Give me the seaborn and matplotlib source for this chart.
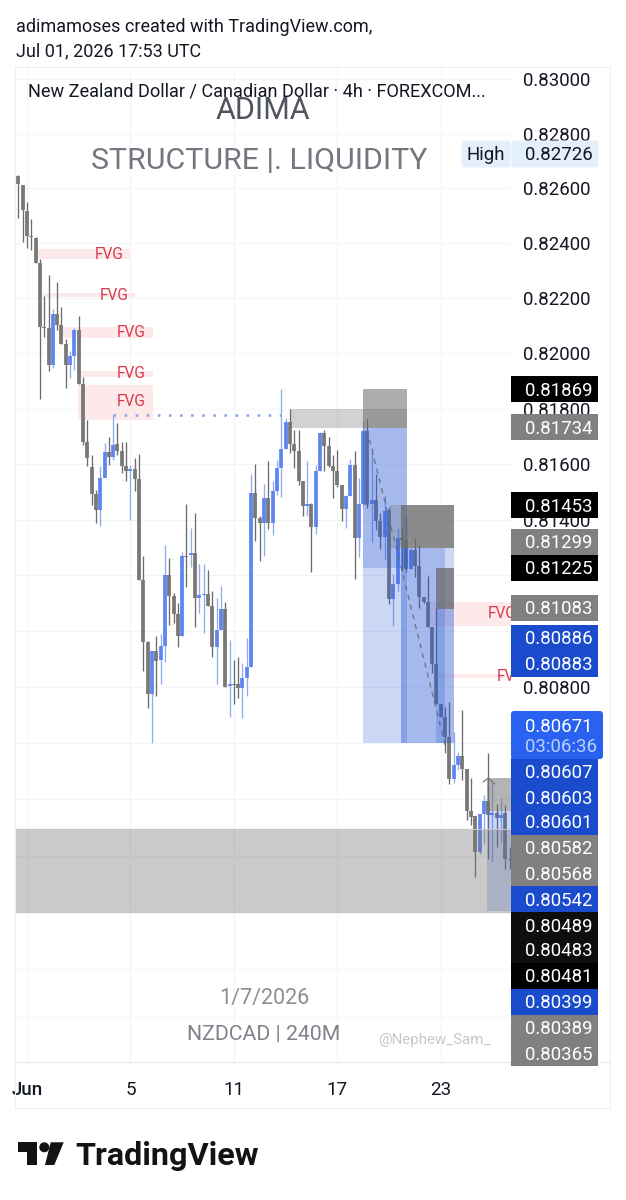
import numpy as np
import pandas as pd
import matplotlib
matplotlib.use("Agg")
import matplotlib.pyplot as plt
import seaborn as sns
from matplotlib.patches import Rectangle, Polygon, Circle, FancyBboxPatch
from matplotlib.ticker import NullFormatter, FixedFormatter
from matplotlib.transforms import Affine2D

W, H = 626, 1200

# 4h candles, prices in units of 1e-5
opens = [82646, 82613, 82519, 82426, 82420, 82328, 82095, 82092, 81959, 82142, 82102, 82033, 81959, 81989, 82083, 81888,
         81679, 81589, 81492, 81435, 81551, 81645, 81625, 81671, 81648, 81594, 81575, 81581, 81546, 81182, 80962, 80775,
         80930, 80897, 80947, 81202, 81126, 81060, 80983, 81270, 81272, 81278, 81119, 81129, 81132, 81089, 80944, 81004,
         81080, 80804, 80810, 80810, 80796, 80833, 80873, 81495, 81405, 81387, 81477, 81389, 81501, 81585, 81653, 81751,
         81672, 81648, 81537, 81450, 81455, 81373, 81575, 81713, 81665, 81593, 81576, 81525, 81437, 81483, 81597, 81333,
         81455, 81720, 81456, 81471, 81393, 81337, 81435, 81113, 81170, 81333, 81327, 81222, 81291, 81234, 81123, 81103,
         81013, 80882, 80739, 80694, 80623, 80471, 80522, 80554, 80506, 80359, 80340, 80214, 80347, 80394, 80343, 80350,
         80333, 80351, 80188]
highs = [82650, 82613, 82549, 82489, 82422, 82344, 82207, 82283, 82162, 82259, 82168, 82053, 82008, 82090, 82134, 81915,
         81759, 81633, 81507, 81594, 81675, 81697, 81777, 81748, 81681, 81681, 81597, 81622, 81636, 81268, 80965, 80930,
         80983, 80988, 81310, 81260, 81135, 81099, 81284, 81455, 81369, 81424, 81240, 81239, 81218, 81143, 81117, 81162,
         81103, 80968, 80897, 80906, 80887, 80976, 81563, 81600, 81411, 81527, 81611, 81537, 81615, 81870, 81765, 81797,
         81723, 81723, 81537, 81611, 81459, 81597, 81717, 81723, 81699, 81633, 81651, 81525, 81489, 81618, 81647, 81551,
         81756, 81761, 81657, 81564, 81423, 81489, 81445, 81204, 81369, 81369, 81409, 81298, 81333, 81309, 81123, 81196,
         81015, 81083, 80739, 80730, 80748, 80640, 80567, 80718, 80506, 80475, 80340, 80347, 80415, 80565, 80468, 80384,
         80403, 80378, 80230]
lows = [82493, 82404, 82382, 82376, 82328, 81833, 82059, 81936, 81945, 82083, 82033, 81875, 81909, 81939, 81888, 81669,
        81591, 81453, 81389, 81377, 81579, 81597, 81615, 81633, 81569, 81540, 81399, 81501, 81182, 80858, 80724, 80599,
        80768, 80811, 80890, 81022, 81030, 80944, 80983, 81158, 81230, 81015, 81065, 80992, 81089, 80908, 80811, 81004,
        80799, 80694, 80738, 80760, 80691, 80769, 80873, 81321, 81252, 81270, 81365, 81345, 81489, 81481, 81653, 81641,
        81585, 81525, 81413, 81411, 81213, 81348, 81575, 81573, 81589, 81477, 81517, 81393, 81371, 81483, 81188, 81264,
        81449, 81441, 81318, 81363, 81293, 81257, 81095, 81018, 81143, 81215, 81212, 81221, 81194, 81083, 81100, 81013,
        80849, 80739, 80692, 80563, 80456, 80457, 80504, 80468, 80325, 80307, 80123, 80207, 80242, 80188, 80176, 80229,
        80247, 80152, 80154]
closes = [82616, 82522, 82427, 82423, 82329, 82095, 82092, 81959, 82142, 82102, 82033, 81959, 81989, 82083, 81888, 81678,
          81621, 81492, 81435, 81551, 81645, 81625, 81669, 81648, 81594, 81573, 81581, 81546, 81182, 80962, 80775, 80930,
          80894, 80947, 81202, 81126, 81060, 80983, 81270, 81265, 81278, 81119, 81129, 81132, 81089, 80944, 81004, 81080,
          80801, 80810, 80806, 80796, 80833, 80873, 81495, 81405, 81387, 81477, 81389, 81501, 81585, 81653, 81751, 81672,
          81648, 81537, 81450, 81455, 81373, 81575, 81713, 81665, 81593, 81576, 81525, 81437, 81483, 81597, 81333, 81455,
          81720, 81453, 81471, 81393, 81337, 81432, 81113, 81170, 81333, 81327, 81222, 81291, 81234, 81123, 81103, 81013,
          80882, 80739, 80694, 80623, 80471, 80522, 80554, 80506, 80359, 80338, 80214, 80347, 80394, 80343, 80350, 80333,
          80345, 80188, 80185]

x_tick_pos = [2, 26, 50, 74, 98]
x_tick_labels = ["Jun", "5", "11", "17", "23"]
price_ticks = [0.830, 0.828, 0.826, 0.824, 0.822, 0.820, 0.818, 0.816, 0.814, 0.812, 0.810,
               0.808, 0.806, 0.804, 0.802, 0.800, 0.798]
# the label stack hides the other tick labels
shown_ticks = [0.830, 0.828, 0.826, 0.824, 0.822, 0.820, 0.818, 0.816, 0.814, 0.808]

# start candle, end candle, top price, bottom price
fvg_starts = [4.3, 5.7, 10.4, 14.3, 13.8, 95.0, 97.4]
fvg_ends = [26.1, 27.1, 31.2, 31.2, 31.2, 114.3, 114.3]
fvg_tops = [0.82378, 0.82218, 0.82094, 0.81935, 0.81885, 0.81104, 0.80847]
fvg_bottoms = [0.82341, 0.82203, 0.82054, 0.81914, 0.81759, 0.81018, 0.80832]
fvg_label_x = [21.0, 22.2, 26.1, 26.1, 26.1, 109.0, 111.0]
fvg_label_price = [0.82359, 0.82211, 0.82076, 0.81928, 0.81824, 0.81064, 0.80839]

gray_starts = [63.0, 80.0, 86.2, 88.8, 96.9, 108.7]
gray_ends = [90.2, 90.2, 101.1, 101.1, 101.1, 114.3]
gray_tops = [0.81798, 0.81870, 0.81453, 0.81453, 0.81226, 0.80475]
gray_bottoms = [0.81730, 0.81730, 0.81298, 0.81298, 0.81079, 0.80357]
gray_alphas = [0.3, 0.55, 0.25, 0.7, 0.75, 0.5]

blue_starts = [80.0, 80.0, 88.8, 88.8, 96.9, 108.7]
blue_ends = [90.2, 90.2, 99.0, 101.1, 101.1, 114.3]
blue_tops = [0.81730, 0.81730, 0.81298, 0.81298, 0.81079, 0.80357]
blue_bottoms = [0.80600, 0.81226, 0.80600, 0.80600, 0.80600, 0.80004]

zone_top, zone_bottom = 0.80293, 0.80000
dotted_x, dotted_price = [22, 61], [0.81777, 0.81777]
dashed_x, dashed_price = [80.9, 99.0], [0.81723, 0.80593]
chevron_x, chevron_price = [107.8, 109.0, 110.6], [0.80461, 0.80475, 0.80454]

label_values = ["0.81869", "0.81734", "0.81453", "0.81299", "0.81225", "0.81083", "0.80886", "0.80883",
                "0.80607", "0.80603", "0.80601", "0.80582", "0.80568", "0.80542", "0.80489", "0.80483",
                "0.80481", "0.80399", "0.80389", "0.80365"]
label_colors = ["black", "gray", "black", "gray", "black", "gray", "blue", "blue",
                "blue", "blue", "blue", "gray", "gray", "blue", "dark", "dark",
                "black", "blue", "gray", "gray"]
label_centers = [389, 427, 505, 542, 568, 608, 638, 664, 771, 797, 822, 848, 873, 899, 925, 950, 976, 1002, 1028, 1053]
label_palette = {"black": "#000000", "dark": "#0e0e0e", "gray": "#808080", "blue": "#1a4bcc"}

df = pd.DataFrame({"o": opens, "h": highs, "l": lows, "c": closes}).astype(float) / 1e5
df["candle"] = np.arange(len(df))
df["direction"] = np.where(df["c"] >= df["o"], "up", "down")

wicks = df.melt(id_vars=["candle", "direction"], value_vars=["l", "h"], value_name="price")
bodies = df.melt(id_vars=["candle", "direction"], value_vars=["o", "c"], value_name="price")

sns.set_theme(style="white")
plt.rcParams["font.family"] = ["Roboto", "DejaVu Sans"]

fig = plt.figure(figsize=(W / 100, H / 100), dpi=100, facecolor="white")
ax = fig.add_axes([15 / W, 1 - 1062 / H, (511 - 15) / W, (1062 - 67) / H])
px = Affine2D().scale(1 / W, -1 / H).translate(0, 1) + fig.transFigure

# FVG zones go under the candles
for s, e, t, b in zip(fvg_starts, fvg_ends, fvg_tops, fvg_bottoms):
    ax.fill_between([s, e], b, t, color="#fde9ea", lw=0, zorder=1)

sns.lineplot(data=wicks, x="candle", y="price", units="candle", hue="direction", estimator=None, sort=False,
             palette={"up": "#8fabf2", "down": "#6c6c6c"}, linewidth=0.95, legend=False, ax=ax, zorder=2,
             solid_capstyle="butt")
sns.lineplot(data=bodies, x="candle", y="price", units="candle", hue="direction", estimator=None, sort=False,
             palette={"up": "#5f86f0", "down": "#787878"}, linewidth=2.7, legend=False, ax=ax, zorder=2.1,
             solid_capstyle="butt")

# position boxes sit over the candles
for s, e, t, b in zip(blue_starts, blue_ends, blue_tops, blue_bottoms):
    ax.fill_between([s, e], b, t, color="#2a5bd7", alpha=0.24, lw=0, zorder=3)
for s, e, t, b, a in zip(gray_starts, gray_ends, gray_tops, gray_bottoms, gray_alphas):
    ax.fill_between([s, e], b, t, color="#6a6a6a", alpha=a, lw=0, zorder=3)

ax.axhspan(zone_bottom, zone_top, color="#757575", alpha=0.38, lw=0, zorder=3)
ax.axhline(zone_top, color="#c4c4c4", lw=0.8, zorder=3)
ax.axhline(zone_bottom, color="#c4c4c4", lw=0.8, zorder=3)

ax.plot(dotted_x, dotted_price, color="#8fa5ea", lw=1.9, ls=(0, (1, 3.2)), zorder=2.5)
ax.plot(dashed_x, dashed_price, color="#6b6f7a", lw=0.9, ls=(0, (4, 4)), zorder=3.5)
ax.plot(chevron_x, chevron_price, color="#7c7c7c", lw=0.9, zorder=3.5)

for lx, lp in zip(fvg_label_x, fvg_label_price):
    ha = "left" if lx > 100 else "center"
    ax.text(lx, lp, "FVG", color="#d9394c", fontsize=11.2, ha=ha, va="center", zorder=4, clip_on=True)

ax.set_yscale("log")
ax.set_ylim(0.79472, 0.83044)
ax.set_xlim(-0.78, 114.3)
ax.set_xlabel("")
ax.set_ylabel("")

ax.set_yticks(price_ticks)
ax.set_yticks([0.7963], minor=True)
ax.yaxis.set_major_formatter(FixedFormatter([f"{p:.5f}" if p in shown_ticks else "" for p in price_ticks]))
ax.yaxis.set_minor_formatter(NullFormatter())
ax.yaxis.tick_right()
ax.tick_params(axis="y", which="both", length=0, pad=9, labelsize=13.4, labelcolor="#131722")
ax.set_xticks(x_tick_pos)
ax.set_xticklabels(x_tick_labels)
ax.tick_params(axis="x", length=0, pad=14, labelsize=13.5, labelcolor="#131722")
ax.get_xticklabels()[0].set_fontweight(500)
ax.grid(True, which="both", color="#f2f4f8", lw=0.8, zorder=0)
ax.set_axisbelow(True)
for name, spine in ax.spines.items():
    spine.set_visible(name == "bottom")
    spine.set_color("#e8ebf2")
    spine.set_linewidth(0.8)

# outer frame of the snapshot
fig.add_artist(Rectangle((15, 67), 595, 1041, transform=px, fill=False, ec="#eef0f5", lw=0.8, zorder=0.5))
fig.add_artist(plt.Line2D([511, 610], [1062, 1062], transform=px, color="#e8ebf2", lw=0.8, zorder=0.5))

# overlay texts
fig.text(16, 27, "adimamoses created with TradingView.com,", transform=px, fontsize=13, color="#131722", va="center")
fig.text(16, 51, "Jul 01, 2026 17:53 UTC", transform=px, fontsize=13, color="#131722", va="center")
fig.text(28, 91.5, "New Zealand Dollar / Canadian Dollar · 4h · FOREXCOM...", transform=px, fontsize=13.1,
         color="#131722", va="center")
fig.text(263, 110.5, "ADIMA", transform=px, fontsize=22, color="#50545e", ha="center", va="center")
fig.text(259.5, 161, "STRUCTURE |. LIQUIDITY", transform=px, fontsize=21.8, color="#74777f", ha="center", va="center")
fig.text(264, 998.5, "1/7/2026", transform=px, fontsize=15.5, color="#8b8e94", ha="center", va="center")
fig.text(263.5, 1034.5, "NZDCAD | 240M", transform=px, fontsize=15.3, color="#7f8289", ha="center", va="center")
fig.text(434.5, 1040, "@Nephew_Sam_", transform=px, fontsize=10.9, color="#c6c8cc", ha="center", va="center")

# High tag
fig.add_artist(FancyBboxPatch((463, 142), 46, 24, transform=px, boxstyle="round,pad=1.5,rounding_size=3", fc="#e3effb", ec="none"))
fig.add_artist(FancyBboxPatch((513, 142), 84, 24, transform=px, boxstyle="round,pad=1.5,rounding_size=3", fc="#e3effb", ec="none"))
fig.text(486, 154.5, "High", transform=px, fontsize=13.4, color="#131722", ha="center", va="center")
fig.text(525, 154.5, "0.82726", transform=px, fontsize=13.4, color="#131722", va="center")

# price label stack
for value, colour, cy in zip(label_values, label_colors, label_centers):
    fig.add_artist(Rectangle((511, cy - 12.9), 87, 25.8, transform=px, fc=label_palette[colour], ec="none"))
    fig.text(525, cy + 1.5, value, transform=px, fontsize=13.4, color="white", va="center")

fig.add_artist(FancyBboxPatch((512, 712), 90, 46, transform=px, boxstyle="round,pad=1,rounding_size=3", fc="#2962f0", ec="none"))
fig.text(525, 726.5, "0.80671", transform=px, fontsize=13.4, color="white", va="center")
fig.text(525, 747.5, "03:06:36", transform=px, fontsize=13.4, color="#bcd0fb", va="center")

# TradingView logo
logo = "#131313"
fig.add_artist(Polygon([(18.3, 1142.3), (36.7, 1142.3), (36.7, 1165), (26.7, 1165), (26.7, 1152.3), (18.3, 1152.3)],
                       transform=px, fc=logo, ec="none"))
fig.add_artist(Circle((44.3, 1147.3), 5, transform=px, fc=logo, ec="none"))
fig.add_artist(Polygon([(50.7, 1142.3), (63.7, 1142.3), (54.3, 1165), (45, 1165)], transform=px, fc=logo, ec="none"))
fig.text(75, 1156, "TradingView", transform=px, fontsize=23.3, fontweight="bold", color=logo, va="center")

fig.savefig("out.png", dpi=100)
